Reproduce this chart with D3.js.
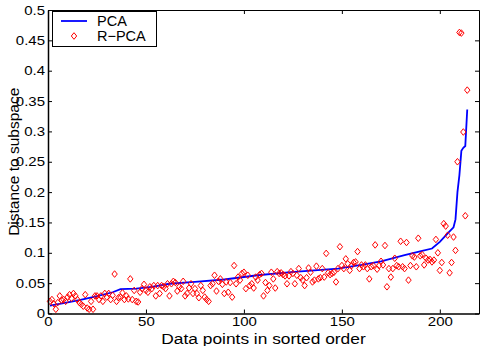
<!DOCTYPE html>
<html>
<head>
<meta charset="utf-8">
<script src="https://cdn.jsdelivr.net/npm/d3@7"></script>
<style>
body { margin: 0; background: #fff; }
svg { display: block; font-family: "Liberation Sans", Arial, Helvetica, sans-serif; }
</style>
</head>
<body>
<div id="my_dataviz"></div>
<script>
// tick values and labels
var xTicks = [0, 50, 100, 150, 200];
var yTicks = [0, 0.05, 0.1, 0.15, 0.2, 0.25, 0.3, 0.35, 0.4, 0.45, 0.5];
var yTickLabels = ["0", "0.05", "0.1", "0.15", "0.2", "0.25", "0.3", "0.35", "0.4", "0.45", "0.5"];
var seriesNames = ["PCA", "R\u2212PCA"];

// PCA curve
var pcaX = [1, 8, 16, 24, 33, 37, 45, 53, 62, 75, 90, 107, 124, 148, 160, 170, 182, 191, 196, 200, 204, 207, 208, 209, 210, 211, 212, 213, 214];
var pcaY = [0.013, 0.017, 0.022, 0.028, 0.035, 0.040, 0.041, 0.044, 0.049, 0.052, 0.056, 0.063, 0.068, 0.074, 0.080, 0.086, 0.096, 0.103, 0.107, 0.118, 0.132, 0.142, 0.155, 0.200, 0.228, 0.268, 0.273, 0.276, 0.336];

// R-PCA distances, one per data point (1..214)
var rpcaY = [
    0.020, 0.023, 0.016, 0.007, 0.018, 0.029, 0.022, 0.023, 0.020, 0.027,
    0.031, 0.025, 0.033, 0.029, 0.023, 0.018, 0.015, 0.012, 0.031, 0.009,
    0.007, 0.020, 0.007, 0.029, 0.029, 0.023, 0.029, 0.020, 0.033, 0.027,
    0.033, 0.023, 0.030, 0.065, 0.020, 0.026, 0.027, 0.034, 0.023, 0.029,
    0.024, 0.057, 0.023, 0.038, 0.020, 0.019, 0.035, 0.041, 0.048, 0.038,
    0.035, 0.044, 0.041, 0.046,
    0.029, 0.046, 0.033, 0.046, 0.044, 0.041, 0.049, 0.029, 0.049, 0.053,
    0.051, 0.037, 0.044, 0.041, 0.053, 0.029, 0.033, 0.042, 0.049, 0.033,
    0.041, 0.033, 0.026, 0.046, 0.038, 0.027, 0.023, 0.020, 0.046, 0.049,
    0.063, 0.037, 0.053, 0.057, 0.048, 0.033, 0.052, 0.035, 0.051, 0.027,
    0.079, 0.049, 0.060, 0.055, 0.066, 0.068, 0.041, 0.063, 0.046, 0.049,
    0.042, 0.060, 0.055,
    0.064, 0.066, 0.029, 0.051, 0.038, 0.046, 0.068, 0.057, 0.042, 0.069,
    0.066, 0.067, 0.064, 0.062, 0.049, 0.062, 0.069, 0.066, 0.049, 0.063,
    0.074, 0.059, 0.055, 0.046, 0.059, 0.075, 0.068, 0.052, 0.055, 0.078,
    0.057, 0.059, 0.074, 0.060, 0.099, 0.067, 0.064, 0.066, 0.068, 0.052,
    0.074, 0.110, 0.079, 0.074, 0.090, 0.082, 0.071, 0.079, 0.084, 0.085,
    0.102, 0.074, 0.080, 0.077,
    0.080, 0.074, 0.057, 0.077, 0.079, 0.113, 0.073, 0.079, 0.086, 0.080,
    0.112, 0.044, 0.074, 0.060, 0.074, 0.091, 0.079, 0.077, 0.119, 0.077,
    0.074, 0.117, 0.055, 0.079, 0.095, 0.093, 0.077, 0.124, 0.095, 0.097,
    0.080, 0.091, 0.088, 0.089, 0.085, 0.088, 0.122, 0.100, 0.071, 0.084,
    0.148, 0.144, 0.129, 0.067, 0.084, 0.126, 0.104, 0.250, 0.463, 0.462,
    0.299, 0.161, 0.368
];

var margin = {top: 10, right: 2, bottom: 32.5, left: 48},
    width = 481 - margin.left - margin.right,
    height = 346 - margin.top - margin.bottom;

var svg = d3.select("#my_dataviz")
    .append("svg")
        .attr("width", 481)
        .attr("height", 346)
    .append("g")
        .attr("transform", "translate(" + margin.left + "," + margin.top + ")");

var x = d3.scaleLinear().domain([0, 220]).range([0, width]);
var y = d3.scaleLinear().domain([0, 0.5]).range([height, 0]);

// PCA line
var pcaData = pcaX.map(function(d, i) { return {x: d, y: pcaY[i]}; });
var valueline = d3.line()
    .x(function(d) { return x(d.x); })
    .y(function(d) { return y(d.y); });
svg.append("path")
    .data([pcaData])
    .attr("fill", "none")
    .attr("stroke", "#0000ff")
    .attr("stroke-width", 1.8)
    .attr("d", valueline);

// R-PCA diamonds
var diamond = "M0,-3.3L2.7,0L0,3.3L-2.7,0Z";
svg.selectAll(".dot")
    .data(rpcaY)
    .enter()
    .append("path")
    .attr("class", "dot")
    .attr("d", diamond)
    .attr("transform", function(d, i) { return "translate(" + x(i + 1) + "," + y(d) + ")"; })
    .attr("fill", "none")
    .attr("stroke", "#ff0000")
    .attr("stroke-width", 1);

// axes, MATLAB style: box with inward ticks on all sides
function styleAxis(g, fontSize, sx) {
    g.select(".domain").attr("stroke", "#000");
    g.selectAll(".tick line").attr("stroke", "#000");
    g.selectAll(".tick text")
        .attr("fill", "#000")
        .style("font-size", fontSize + "px")
        .attr("transform", "scale(" + sx + ",1)");
}

var xAxis = svg.append("g")
    .attr("transform", "translate(0," + height + ")")
    .call(d3.axisBottom(x).tickValues(xTicks).tickSizeInner(-4).tickSizeOuter(0).tickPadding(4))
    .attr("font-family", null);
styleAxis(xAxis, 12.5, 1.2);
xAxis.select(".domain").attr("stroke-width", 1.5);

var yAxis = svg.append("g")
    .call(d3.axisLeft(y).tickValues(yTicks).tickSizeInner(-4).tickSizeOuter(0).tickPadding(2.5)
        .tickFormat(function(d, i) { return yTickLabels[i]; }))
    .attr("font-family", null);
styleAxis(yAxis, 12.5, 1.2);
yAxis.select(".domain").attr("stroke-width", 1.5);

svg.append("g")
    .call(d3.axisTop(x).tickValues(xTicks).tickSizeInner(-4).tickSizeOuter(0).tickFormat(""))
    .call(function(g) { g.selectAll("line, path").attr("stroke", "#000"); });

svg.append("g")
    .attr("transform", "translate(" + width + ",0)")
    .call(d3.axisRight(y).tickValues(yTicks).tickSizeInner(-4).tickSizeOuter(0).tickFormat(""))
    .call(function(g) { g.selectAll("line, path").attr("stroke", "#000"); });

// axis labels
svg.append("text")
    .attr("transform", "translate(" + (width / 2) + "," + (height + 30) + ") scale(1.12,1)")
    .attr("text-anchor", "middle")
    .style("font-size", "15.5px")
    .text("Data points in sorted order");

svg.append("text")
    .attr("transform", "translate(" + (18.5 - margin.left) + "," + (height / 2) + ") rotate(-90)")
    .attr("text-anchor", "middle")
    .style("font-size", "15.5px")
    .text("Distance to subspace");

// legend
var legend = svg.append("g").attr("transform", "translate(4.5,1.5)");
legend.append("rect")
    .attr("width", 104)
    .attr("height", 35)
    .attr("fill", "#fff")
    .attr("stroke", "#000");
legend.append("line")
    .attr("x1", 8.5).attr("x2", 34.5)
    .attr("y1", 9.5).attr("y2", 9.5)
    .attr("stroke", "#0000ff")
    .attr("stroke-width", 1.8);
legend.append("path")
    .attr("d", diamond)
    .attr("transform", "translate(21.5,24.5)")
    .attr("fill", "none")
    .attr("stroke", "#ff0000");
legend.selectAll(".legtext")
    .data(seriesNames)
    .enter()
    .append("text")
    .attr("x", 44.5)
    .attr("y", function(d, i) { return 14.5 + i * 15; })
    .style("font-size", "14.5px")
    .text(function(d) { return d; });
</script>
</body>
</html>
